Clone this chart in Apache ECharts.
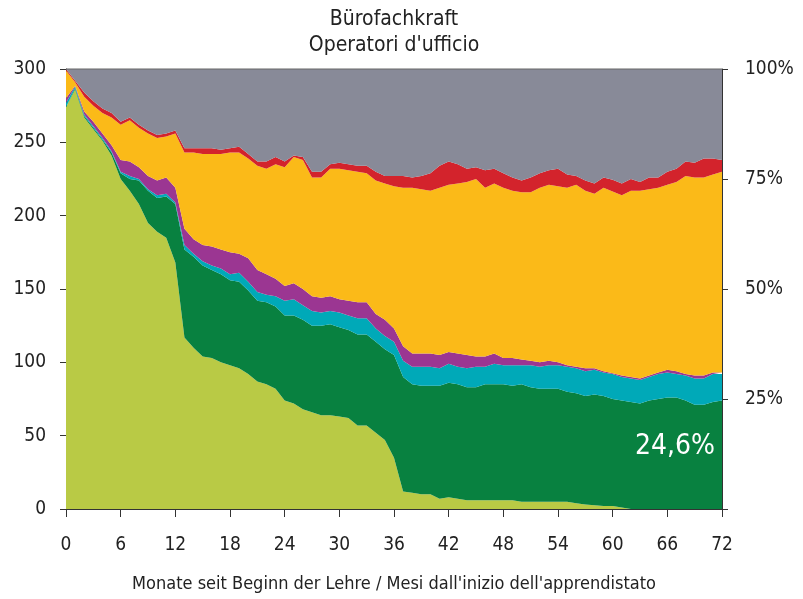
<!DOCTYPE html>
<html lang="de">
<head>
<meta charset="utf-8"/>
<title>Bürofachkraft</title>
<script src="https://cdn.jsdelivr.net/npm/echarts@6/dist/echarts.min.js"></script>
<style>
  html, body { margin: 0; padding: 0; background: #fff; }
  #chart { width: 803px; height: 599px; }
</style>
</head>
<body>
<div id="chart"></div>
<script>
// Monate 0..72
var months = [];
for (var m = 0; m <= 72; m++) months.push(String(m));

// Werte pro Schicht (Personen, Summe = 300)
var hellgruen = [274,286,267,259,251,241,225,217,208,195,189,185,168,117,110,104,103,100,98,96,
  92,87,85,82,74,72,68,66,64,64,63,62,57,57,52,47,35,12,11,10,
  10,7,8,7,6,6,6,6,6,6,5,5,5,5,5,5,4,3,2.5,2,
  2,1,0,0,0,0,0,0,0,0,0,0,0];
var dunkelgruen = [0,1,1,1,1,2,4,8,16,22,23,28,40,60,62,62,60,60,58,59,
  57,55,56,56,58,60,61,59,61,62,61,60,62,62,62,62,70,78,74,74,
  74,77,78,78,77,77,79,79,79,78,80,78,77,77,77,75,75,74,75.5,75,
  73,73,73,72,74,75,76,76,74,71,71,73,74];
var tuerkis = [3,1,1,1,1,1,1,2,1,1,2,2,1,3,2,3,3,4,4,6,
  6,6,5,7,10,11,10,10,9,9,10,10,11,11,9,9,9,11,12,13,
  13,12,13,12,13,14,12,14,13,14,13,15,15,16,16,17,17,17,17,16,
  17,16,16,16,16,17,17,16,17,18,18,19,18];
var violett = [3,0.5,2,3,3,4,8,10,8,9,10,11,10,11,10,11,13,13,15,13,
  16,15,14,12,10,11,11,10,10,10,9,10,11,11,10,11,9,10,9,9,
  9,9,8,9,9,7,7,7,5,5,4,3,3,3,2,1,1,2,1,1,
  0.5,1,1,1,1,1,2,2,1,2,2,1,1];
var orange = [19,2.5,10,11,14,19,24,28,27,29,29,28,37,52,59,62,63,65,68,69,
  68,71,72,78,81,86,88,81,82,87,89,89,89,88,91,93,97,108,113,112,
  111,114,114,116,118,121,115,116,116,114,114,115,119,120,120,121,124,121,119,125,
  124,123,127,128,127,126,126,129,135,135,135,135,137];
var rot = [1,1,3,3,3,3,2,2,2,2,2,2,2,3,3,4,4,3,3,4,
  3,3,5,5,4,1,2,4,4,3,4,4,4,5,6,5,7,8,7,9,
  12,15,16,13,9,8,12,10,10,9,8,10,10,10,12,9,6,7,7,7,
  8,8,8,6,8,7,9,9,10,10,13,11,8];
var grau = [0,8,16,22,27,30,36,33,38,42,45,44,42,54,54,54,54,55,54,53,
  58,63,63,60,63,59,60,70,70,65,64,65,66,66,70,73,73,73,74,73,
  71,66,63,65,68,67,69,68,71,74,76,74,71,69,68,72,73,76,78,74,
  76,78,75,77,74,74,70,68,63,64,61,61,62];

var schrift = "'DejaVu Sans Condensed', 'DejaVu Sans', sans-serif";

var schichten = [
    { name: 'hellgruen', data: hellgruen, color: '#b9ca45' },
    { name: 'dunkelgruen', data: dunkelgruen, color: '#088140' },
    { name: 'tuerkis', data: tuerkis, color: '#00a9b8' },
    { name: 'violett', data: violett, color: '#9b3692' },
    { name: 'orange', data: orange, color: '#fbba18' },
    { name: 'rot', data: rot, color: '#d3232c' },
    { name: 'grau', data: grau, color: '#888a98' }
];

var serien = schichten.map(function (s) {
    return {
        name: s.name,
        type: 'line',
        stack: 'alle',
        symbol: 'none',
        silent: true,
        data: s.data,
        lineStyle: { width: 0 },
        areaStyle: { color: s.color, opacity: 1 },
        itemStyle: { color: s.color }
    };
});

var chart = echarts.init(document.getElementById('chart'), null, { renderer: 'canvas' });
chart.setOption({
    animation: false,
    textStyle: { fontFamily: schrift },
    grid: { left: 66, right: 81, top: 69, bottom: 90 },
    xAxis: {
        type: 'category',
        data: months,
        boundaryGap: false,
        name: 'Monate seit Beginn der Lehre / Mesi dall\'inizio dell\'apprendistato',
        nameLocation: 'middle',
        nameGap: 66,
        nameTextStyle: { fontFamily: schrift, fontSize: 18, color: '#222' },
        axisLine: { show: true, lineStyle: { color: '#333', width: 1 } },
        axisTick: { show: true, length: 8, interval: 5, lineStyle: { color: '#333' } },
        axisLabel: { fontSize: 19, color: '#222', margin: 27, interval: 5 },
        splitLine: { show: false }
    },
    yAxis: [
        {
            type: 'value',
            min: 0,
            max: 300,
            interval: 50,
            position: 'left',
            axisLine: { show: true, lineStyle: { color: '#333', width: 1 } },
            axisTick: { show: true, length: 6, lineStyle: { color: '#333' } },
            axisLabel: { fontSize: 19, color: '#222', margin: 20 },
            splitLine: { show: false }
        },
        {
            type: 'value',
            min: 0,
            max: 100,
            interval: 25,
            position: 'right',
            axisLine: { show: true, lineStyle: { color: '#333', width: 1 } },
            axisTick: { show: true, length: 6, lineStyle: { color: '#333' } },
            axisLabel: {
                fontSize: 19,
                color: '#222',
                margin: 23,
                formatter: function (v) { return v === 0 ? '' : v + '%'; }
            },
            splitLine: { show: false }
        }
    ],
    graphic: [
        {
            type: 'text',
            x: 394,
            y: 20,
            z: 100,
            style: { text: 'Bürofachkraft', fontFamily: schrift, fontSize: 21, fill: '#222', align: 'center', verticalAlign: 'middle' }
        },
        {
            type: 'text',
            x: 394,
            y: 46,
            z: 100,
            style: { text: 'Operatori d\'ufficio', fontFamily: schrift, fontSize: 21, fill: '#222', align: 'center', verticalAlign: 'middle' }
        },
        {
            type: 'text',
            x: 715,
            y: 447,
            z: 100,
            style: { text: '24,6%', fontFamily: schrift, fontSize: 28, fill: '#fff', align: 'right', verticalAlign: 'middle' }
        },
        {
            type: 'line',
            z: 100,
            shape: { x1: 66, y1: 69, x2: 722, y2: 69 },
            style: { stroke: '#666', lineWidth: 1 }
        }
    ],
    series: serien
});
</script>
</body>
</html>
